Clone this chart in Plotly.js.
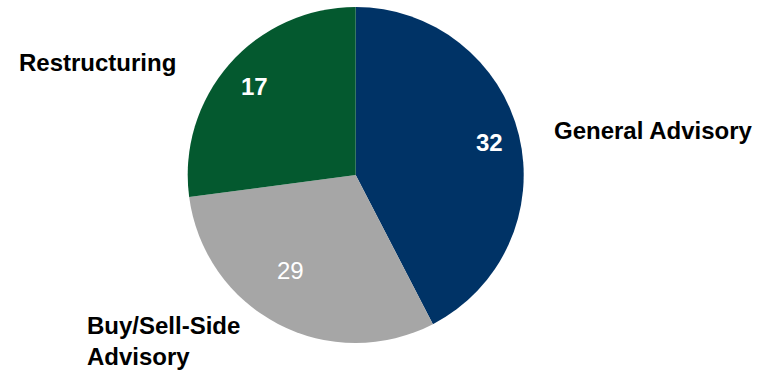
<!DOCTYPE html>
<html>
<head>
<meta charset="utf-8">
<script src="https://cdn.plot.ly/plotly-3.0.1.min.js"></script>
<style>html,body{margin:0;padding:0;background:#fff;}#chart{width:774px;height:370px;}</style>
</head>
<body>
<div id="chart"></div>
<script>
// Categories (clockwise from 12 o'clock)
const categories = ["General Advisory", "Buy/Sell-Side Advisory", "Restructuring"];
// Numbers printed on the slices
const sliceLabels = [32, 29, 17];
// Slice sizes as drawn (share of the circle, %)
const sliceShares = [42.4, 30.5, 27.1];

// Styles
const colors = ["#003366", "#A6A6A6", "#04592F"];
const boldLabel = [true, false, true];
const labelRadius = [0.82, 0.685, 0.80];   // fraction of the pie radius
const labelAngleShift = [0, 6.7, 0];        // degrees, clockwise
const W = 774, H = 370;
const cx = 355.7, cy = 175, R = 168;

const trace = {
  type: "pie",
  labels: categories,
  values: sliceShares,
  textinfo: "none",
  marker: {colors: colors, line: {width: 0}},
  sort: false,
  direction: "clockwise",
  rotation: 0,
  hoverinfo: "none",
  showlegend: false,
  domain: {x: [(cx - R) / W, (cx + R) / W], y: [1 - (cy + R) / H, 1 - (cy - R) / H]}
};

// inner number labels at each slice's mid-angle (computed from the data)
const total = sliceShares.reduce((a, b) => a + b, 0);
let cum = 0;
const innerAnns = sliceShares.map((v, i) => {
  const mid = (cum + v / 2) / total * 360 + labelAngleShift[i];
  cum += v;
  const a = mid * Math.PI / 180;
  const r = labelRadius[i] * R;
  const px = cx + r * Math.sin(a);
  const py = cy - r * Math.cos(a);
  return {
    text: boldLabel[i] ? "<b>" + sliceLabels[i] + "</b>" : String(sliceLabels[i]),
    xref: "paper", yref: "paper", x: px / W, y: 1 - py / H,
    xanchor: "center", yanchor: "middle", showarrow: false,
    font: {family: "Liberation Sans, Arial, sans-serif", size: 24, color: "#ffffff"}
  };
});

const labelFont = {family: "Liberation Sans, Arial, sans-serif", size: 24, color: "#000000"};
const outerLabels = [
  {text: "<b>General Advisory</b>", px: 552, py: 130},
  {text: "<b>Buy/Sell-Side<br>Advisory</b>", px: 85, py: 341},
  {text: "<b>Restructuring</b>", px: 17, py: 62}
];

const layout = {
  width: W, height: H,
  margin: {l: 0, r: 0, t: 0, b: 0},
  paper_bgcolor: "#ffffff",
  plot_bgcolor: "#ffffff",
  annotations: innerAnns.concat(outerLabels.map(o => ({
    text: o.text, xref: "paper", yref: "paper",
    x: o.px / W, y: 1 - o.py / H, xanchor: "left", yanchor: "middle",
    align: "left", showarrow: false, font: labelFont
  })))
};

Plotly.newPlot("chart", [trace], layout, {displayModeBar: false, staticPlot: true});
</script>
</body>
</html>
